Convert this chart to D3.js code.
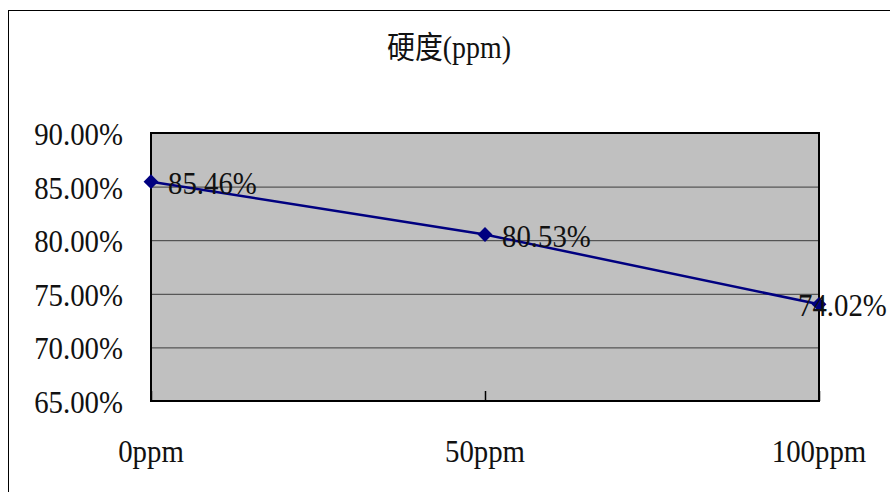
<!DOCTYPE html>
<html>
<head>
<meta charset="utf-8">
<script src="https://cdn.jsdelivr.net/npm/d3@7"></script>
<style>
  html, body { margin: 0; padding: 0; background: #fff; }
  svg { display: block; }
  text { font-family: "Liberation Serif", "Noto Sans CJK TC", serif; fill: #111; }
</style>
</head>
<body>
<svg id="chart" width="890" height="492"></svg>
<script>
const title = "硬度(ppm)";
const categories = ["0ppm", "50ppm", "100ppm"];
const values = [85.46, 80.53, 74.02];
const yTicks = [65, 70, 75, 80, 85, 90];
const yDomain = [65, 90];

const svg = d3.select("#chart");
const plot = { left: 151, top: 133, right: 819, bottom: 401 };
const FS = 32, SX = 0.9;

// outer chart border (cropped at right/bottom)
svg.append("rect").attr("x", 8.5).attr("y", 10.5).attr("width", 900).attr("height", 500)
  .attr("fill", "#fff").attr("stroke", "#000").attr("stroke-width", 1);

const x = d3.scalePoint().domain(categories).range([plot.left, plot.right]).padding(0);
const y = d3.scaleLinear().domain(yDomain).range([plot.bottom, plot.top]);

// plot area
svg.append("rect").attr("x", plot.left).attr("y", plot.top)
  .attr("width", plot.right - plot.left).attr("height", plot.bottom - plot.top)
  .attr("fill", "#c0c0c0");

// gridlines
const grid = svg.append("g").attr("transform", `translate(${plot.left},0)`)
  .call(d3.axisLeft(y).tickValues(yTicks.filter(v => v > yDomain[0] && v < yDomain[1]))
    .tickSize(-(plot.right - plot.left)).tickFormat(""));
grid.select(".domain").remove();
grid.selectAll(".tick line").attr("stroke", "#3c3c3c").attr("stroke-width", 1);

// category ticks (inward)
const xt = svg.append("g").attr("transform", `translate(0,${plot.bottom})`)
  .call(d3.axisBottom(x).tickSize(-10).tickFormat(""));
xt.select(".domain").remove();
xt.selectAll(".tick line").attr("stroke", "#000").attr("stroke-width", 1.5);

// plot border
svg.append("rect").attr("x", plot.left).attr("y", plot.top)
  .attr("width", plot.right - plot.left).attr("height", plot.bottom - plot.top)
  .attr("fill", "none").attr("stroke", "#000").attr("stroke-width", 2);

function label(g, tx, ty, anchor, str, fs) {
  g.append("text")
    .attr("transform", `translate(${tx},${ty}) scale(${SX},1)`)
    .attr("text-anchor", anchor).attr("font-size", fs || FS)
    .text(str);
}

// y tick labels
const gy = svg.append("g");
yTicks.forEach(d => label(gy, 123, y(d) + 12, "end", d3.format(".2f")(d) + "%"));

// x labels
const gx = svg.append("g");
categories.forEach(d => label(gx, x(d), 462, "middle", d));

// title
label(svg, 449, 58, "middle", title, 31);

// line
const line = d3.line().x((d, i) => x(categories[i])).y(d => y(d));
svg.append("path").datum(values).attr("d", line)
  .attr("fill", "none").attr("stroke", "#000080").attr("stroke-width", 2.5);

// markers
svg.append("g").selectAll("path").data(values).join("path")
  .attr("transform", (d, i) => `translate(${x(categories[i])},${y(d)})`)
  .attr("d", d3.symbol(d3.symbolDiamond2, 140)())
  .attr("fill", "#000080");

// data labels
const labelDx = [17, 17, -21];
const gl = svg.append("g");
values.forEach((d, i) => label(gl, x(categories[i]) + labelDx[i], y(d) + 12, "start", d3.format(".2f")(d) + "%"));
</script>
</body>
</html>
